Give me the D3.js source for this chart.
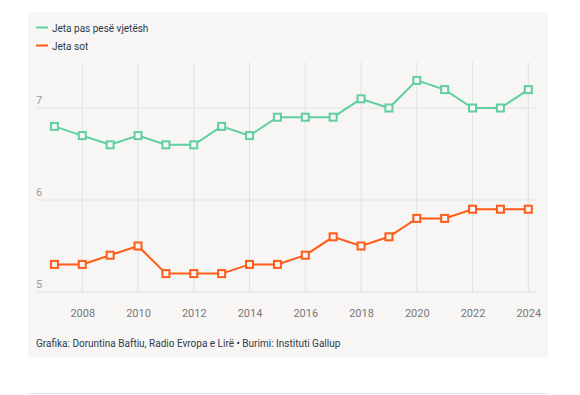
<!DOCTYPE html>
<html>
<head>
<meta charset="utf-8">
<script src="https://cdn.jsdelivr.net/npm/d3@7"></script>
<style>
  body { margin: 0; background: #ffffff; font-family: Roboto, "Noto Sans", sans-serif; }
</style>
</head>
<body>
<div id="chart"></div>
<script>
//Data
var years = [2007, 2008, 2009, 2010, 2011, 2012, 2013, 2014, 2015, 2016, 2017, 2018, 2019, 2020, 2021, 2022, 2023, 2024]
var futureLife = [6.8, 6.7, 6.6, 6.7, 6.6, 6.6, 6.8, 6.7, 6.9, 6.9, 6.9, 7.1, 7.0, 7.3, 7.2, 7.0, 7.0, 7.2]
var currentLife = [5.3, 5.3, 5.4, 5.5, 5.2, 5.2, 5.2, 5.3, 5.3, 5.4, 5.6, 5.5, 5.6, 5.8, 5.8, 5.9, 5.9, 5.9]
var seriesNames = ["Jeta pas pesë vjetësh", "Jeta sot"]
var seriesColors = ["#5fcfa1", "#ff5b16"]
var yTicks = [5, 6, 7]
var xTicks = [2008, 2010, 2012, 2014, 2016, 2018, 2020, 2022, 2024]
var credit = "Grafika: Doruntina Baftiu, Radio Evropa e Lirë • Burimi: Instituti Gallup"

var width = 580
var height = 395

var svg = d3.select("#chart")
            .append("svg")
            .attr("width", width)
            .attr("height", height)
            .style("display", "block")

//Panel background
svg.append("rect")
   .attr("x", 28)
   .attr("y", 12)
   .attr("width", 520)
   .attr("height", 345)
   .attr("fill", "#f7f6f4")

//Bottom rule
svg.append("line")
   .attr("x1", 28).attr("x2", 548)
   .attr("y1", 393.5).attr("y2", 393.5)
   .attr("stroke", "#dfe4e7")
   .attr("stroke-width", 1)

//Scales
var x = d3.scaleLinear()
          .domain([2007, 2024])
          .range([54.4, 528.3])

var y = d3.scaleLinear()
          .domain([5, 7.5])
          .range([292, 62])

//Vertical grid
svg.append("g")
   .selectAll("line")
   .data(xTicks)
   .enter()
   .append("line")
   .attr("x1", d => x(d)).attr("x2", d => x(d))
   .attr("y1", y(7.5)).attr("y2", y(5))
   .attr("stroke", "#e4e2df")
   .attr("stroke-width", 1)

//Horizontal grid
svg.append("g")
   .selectAll("line")
   .data(yTicks)
   .enter()
   .append("line")
   .attr("x1", 36).attr("x2", 536)
   .attr("y1", d => y(d)).attr("y2", d => y(d))
   .attr("stroke", "#e4e2df")
   .attr("stroke-width", 1)

//Y labels sit above the gridline
svg.append("g")
   .selectAll("text")
   .data(yTicks)
   .enter()
   .append("text")
   .text(d => d)
   .attr("x", 36)
   .attr("y", d => y(d) - 4)
   .attr("fill", "#9a9a9a")
   .style("font-size", "11px")

//X axis labels
var xAxis = d3.axisBottom(x)
              .tickValues(xTicks)
              .tickFormat(d3.format("d"))
              .tickSize(0)
              .tickPadding(0)

var gx = svg.append("g")
            .attr("transform", "translate(0," + 317 + ")")
            .call(xAxis)
gx.select(".domain").remove()
gx.selectAll("text")
  .attr("fill", "#777")
  .attr("dy", 0)
  .style("font-size", "11px")
  .style("font-family", "Roboto, \"Noto Sans\", sans-serif")

//Lines and markers
var allSeries = [futureLife, currentLife]
var line = d3.line()
             .x((d, i) => x(years[i]))
             .y(d => y(d))

allSeries.forEach(function (vals, k) {
  svg.append("path")
     .datum(vals)
     .attr("d", line)
     .attr("fill", "none")
     .attr("stroke", seriesColors[k])
     .attr("stroke-width", 2)

  svg.append("g")
     .selectAll("rect")
     .data(vals)
     .enter()
     .append("rect")
     .attr("x", (d, i) => x(years[i]) - 3.5)
     .attr("y", d => y(d) - 3.5)
     .attr("width", 7)
     .attr("height", 7)
     .attr("fill", "#f7f6f4")
     .attr("stroke", seriesColors[k])
     .attr("stroke-width", 2)
})

//Legend
var legend = svg.append("g")
seriesNames.forEach(function (name, k) {
  var ly = 27.5 + k * 18
  legend.append("line")
        .attr("x1", 36).attr("x2", 48)
        .attr("y1", ly).attr("y2", ly)
        .attr("stroke", seriesColors[k])
        .attr("stroke-width", 2)
  legend.append("text")
        .text(name)
        .attr("x", 52)
        .attr("y", ly + 4)
        .attr("fill", "#2e3a4a")
        .style("font-size", "10px")
})

//Credit
svg.append("text")
   .text(credit)
   .attr("x", 36)
   .attr("y", 347)
   .attr("fill", "#2e3a4a")
   .style("font-size", "10px")
</script>
</body>
</html>
